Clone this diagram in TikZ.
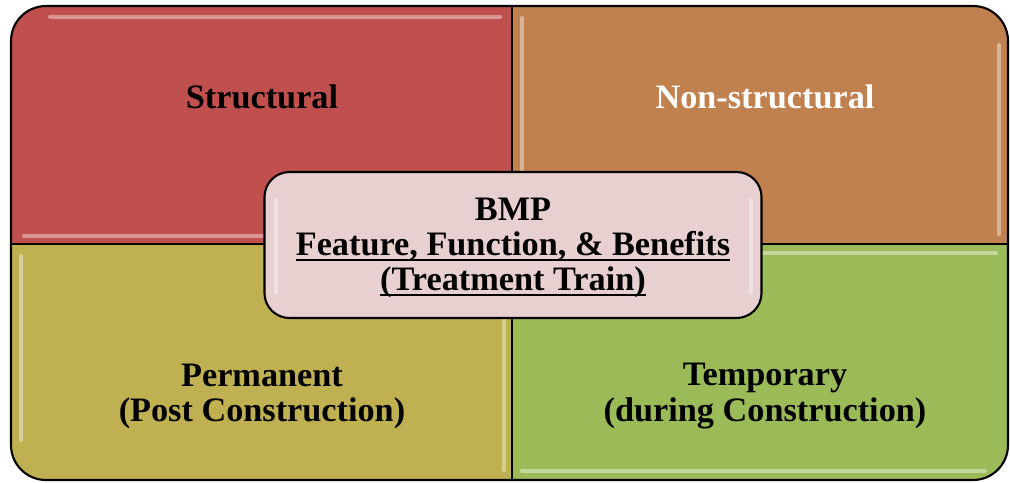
\documentclass[tikz,border=0pt]{standalone}
\usepackage{fontspec}
\setmainfont{Liberation Serif}

\definecolor{qred}{HTML}{C0504D}
\definecolor{qbrown}{HTML}{C0814F}
\definecolor{qolive}{HTML}{BFB052}
\definecolor{qgreen}{HTML}{9BBB59}
\definecolor{qpink}{HTML}{E8D0D0}

% thick underline under one line of text
\newcommand{\ulline}[1]{\setbox0\hbox{#1}\rlap{\rule[-3pt]{\wd0}{1.1pt}}\box0}

\begin{document}
\begin{tikzpicture}[x=0.2mm, y=-0.2mm,
    lbl/.style={font=\fontsize{19.5}{20}\selectfont\bfseries, align=center},
    glow/.style={white, opacity=0.4, line width=0.8mm, line cap=round},
    edge/.style={black, line width=1.2pt}]
  \useasboundingbox (0,0) rectangle (1010,482);

  % four quadrants, clipped to the outer rounded frame
  \begin{scope}
    \clip[rounded corners=7mm] (11,6) rectangle (1008,480);
    \fill[qred] (11,6) rectangle (512,244);
    \fill[qbrown] (512,6) rectangle (1008,244);
    \fill[qolive] (11,244) rectangle (512,480);
    \fill[qgreen] (512,244) rectangle (1008,480);
    \draw[glow] (50,17) -- (500,17);
    \draw[glow] (24,236) -- (500,236);
    \draw[glow] (522,18) -- (522,234);
    \draw[glow] (999,45) -- (999,234);
    \draw[glow] (21,256) -- (21,440);
    \draw[glow] (504,256) -- (504,470);
    \draw[glow] (524,253) -- (996,253);
    \draw[glow] (522,471) -- (985,471);
  \end{scope}
  \draw[edge] (512,6) -- (512,480);
  \draw[edge] (11,244) -- (1008,244);
  \draw[edge, rounded corners=7mm] (11,6) rectangle (1008,480);

  \node[lbl] (structural) at (262,97) {Structural};
  \node[lbl, text=white] (nonstructural) at (765,97) {Non-structural};
  \node[lbl] (permanent) at (262,396) {Permanent\\(Post Construction)};
  \node[lbl] (temporary) at (765,396) {Temporary\\(during Construction)};

  \node[draw, line width=1.2pt, rounded corners=5mm, fill=qpink,
        minimum width=99.4mm, minimum height=29.2mm] (bmp) at (513,245) {};
  \node[lbl] (bmptext) at (513,248)
        {BMP\\\ulline{Feature, Function, \& Benefits}\\\ulline{(Treatment Train)}};
  \draw[glow] (276,200) -- (276,292);
  \draw[glow] (751,200) -- (751,292);
\end{tikzpicture}
\end{document}
